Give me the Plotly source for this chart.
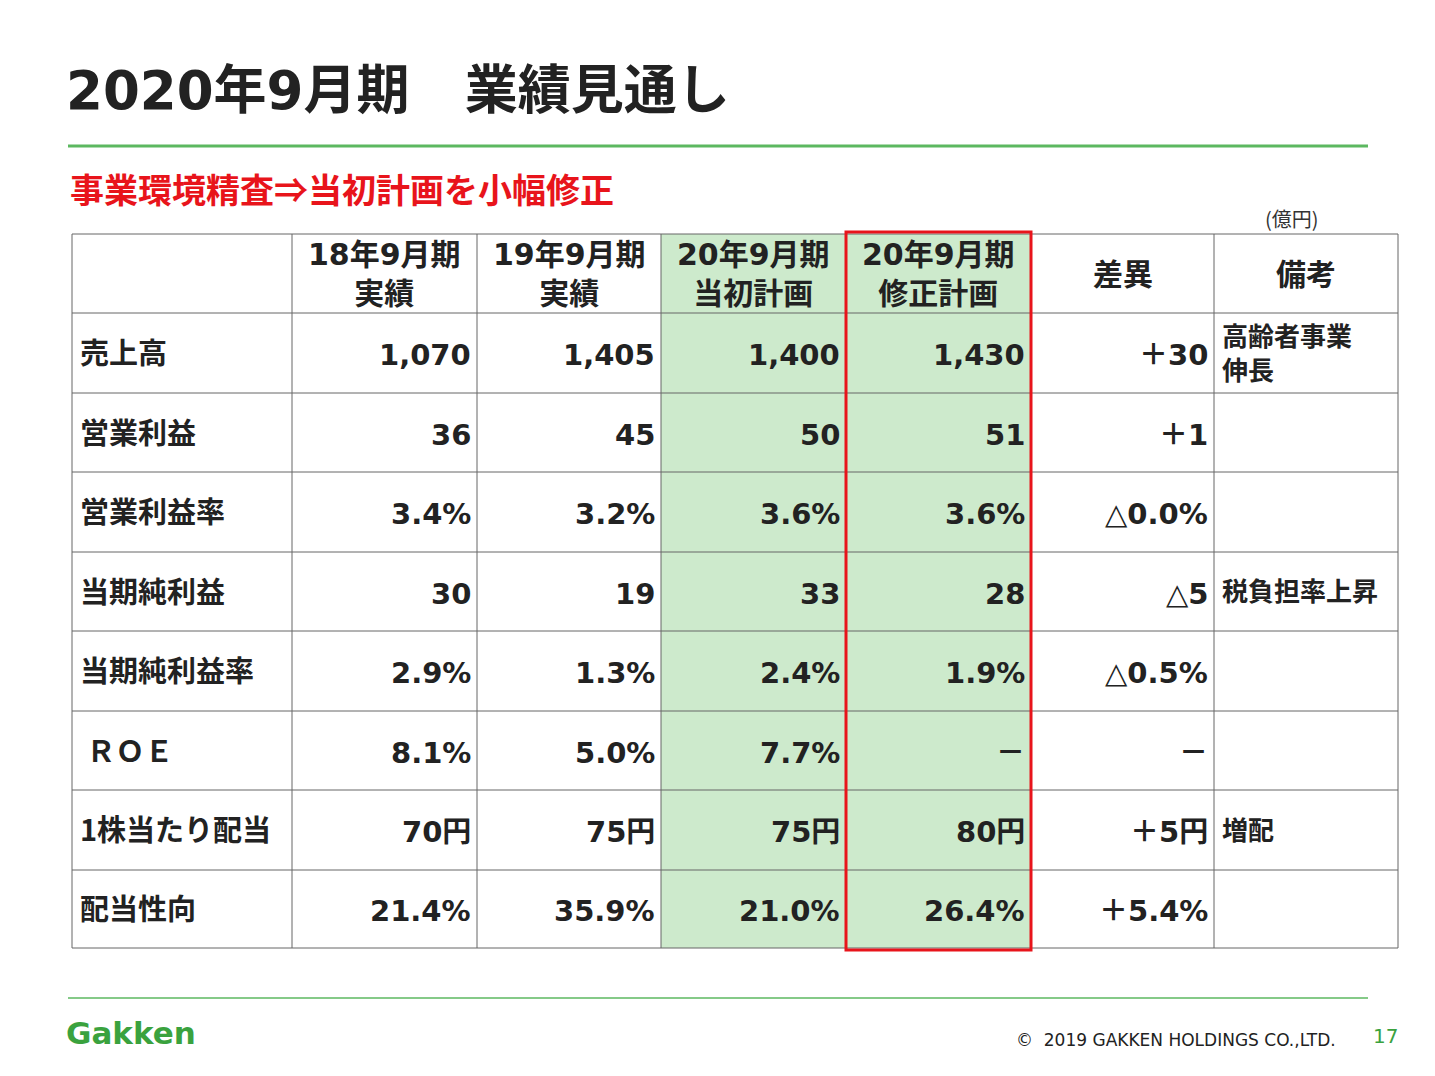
import plotly.graph_objects as go

F = "DejaVu Sans, Noto Sans CJK JP"
FJ = "Noto Sans CJK JP"
title = "2020年9月期 業績見通し"
subtitle = "事業環境精査⇒当初計画を小幅修正"
unit = "(億円)"
headers = ["", "18年9月期<br>実績", "19年9月期<br>実績", "20年9月期<br>当初計画", "20年9月期<br>修正計画", "差異", "備考"]
rows = ["売上高", "営業利益", "営業利益率", "当期純利益", "当期純利益率", " ＲＯＥ", "1株当たり配当", "配当性向"]
fy18 = ["1,070", "36", "3.4%", "30", "2.9%", "8.1%", "70円", "21.4%"]
fy19 = ["1,405", "45", "3.2%", "19", "1.3%", "5.0%", "75円", "35.9%"]
plan = ["1,400", "50", "3.6%", "33", "2.4%", "7.7%", "75円", "21.0%"]
rev = ["1,430", "51", "3.6%", "28", "1.9%", "－", "80円", "26.4%"]
diff = ["＋30", "＋1", "△0.0%", "△5", "△0.5%", "－", "＋5円", "＋5.4%"]
notes = ["高齢者事業<br>伸長", "", "", "税負担率上昇", "", "", "増配", ""]

xs = [72, 292, 477, 661, 846, 1031, 1214, 1398]
ys = [234, 313, 393, 472, 552, 631, 711, 790, 870, 948]

fig = go.Figure()
shapes, ann = [], []
shapes.append(dict(type="rect", x0=661, x1=1031, y0=234, y1=948, fillcolor="#cdeacc", line_width=0, layer="below"))
for x in xs:
    shapes.append(dict(type="line", x0=x, x1=x, y0=234, y1=948, line=dict(color="#666", width=1)))
for y in ys:
    shapes.append(dict(type="line", x0=72, x1=1398, y0=y, y1=y, line=dict(color="#666", width=1)))
shapes.append(dict(type="rect", x0=846, x1=1031, y0=232, y1=950, line=dict(color="#e8141b", width=3)))
shapes.append(dict(type="line", x0=68, x1=1368, y0=146, y1=146, line=dict(color="#5cb860", width=3)))
shapes.append(dict(type="line", x0=68, x1=1368, y0=998, y1=998, line=dict(color="#5cb860", width=1.5)))

def A(x, y, t, size=28, color="#222", xa="left", fam=F, w="bold", **k):
    ann.append(dict(x=x, y=y, text=t, showarrow=False, xref="x", yref="y", xanchor=xa, yanchor="middle",
                    font=dict(family=fam, size=size, color=color, weight=w), **k))

A(64, 90, title.replace(" ", "&nbsp;&nbsp;&nbsp;"), 53, "#222")
A(68, 188, subtitle, 34, "#e8141b", fam=FJ)
A(1292, 218, unit, 20, "#333", "center", fam=FJ, w="normal")
for i, h in enumerate(headers):
    if h:
        A((xs[i] + xs[i + 1]) / 2, 274, h, 30, "#222", "center")
cols = [fy18, fy19, plan, rev, diff]
for r in range(len(rows)):
    yc = (ys[r + 1] + ys[r + 2]) / 2
    A(78, yc - 2, rows[r], 29, fam=FJ)
    for c, vals in enumerate(cols):
        A(xs[c + 2] - 4, yc + 2, vals[r], 29, "#222", "right")
    if notes[r]:
        A(1220, yc - 2, notes[r], 26, "#222", "left", fam=FJ, align="left")
A(64, 1033, "Gakken", 31, "#3aa23e", fam="DejaVu Sans")
A(1338, 1040, "©  2019 GAKKEN HOLDINGS CO.,LTD.", 17, "#222", "right", fam="DejaVu Sans", w="normal")
A(1400, 1036, "17", 20, "#3aa23e", "right", fam="DejaVu Sans", w="normal")

fig.update_layout(width=1435, height=1076, margin=dict(l=0, r=0, t=0, b=0), plot_bgcolor="white",
                  paper_bgcolor="white", shapes=shapes, annotations=ann, showlegend=False,
                  xaxis=dict(range=[8, 1443], visible=False, fixedrange=True),
                  yaxis=dict(range=[1084, 8], visible=False, fixedrange=True))
fig.write_html("out.html")
